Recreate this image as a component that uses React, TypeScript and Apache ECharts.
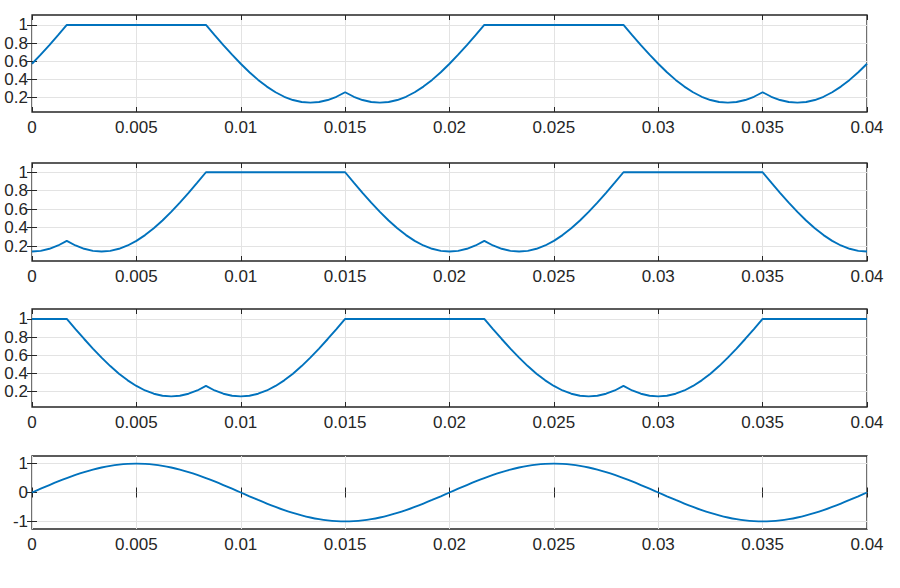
import React, { useEffect, useRef } from "react";
import * as echarts from "echarts";

// Time axis: 0 … 0.04 s, ticks every 0.005 s
const X_MIN = 0;
const X_MAX = 0.04;
const X_INTERVAL = 0.005;
const N_SAMPLES = 97; // one sample every 7.5 electrical degrees (50 Hz)
const TIME = Array.from({ length: N_SAMPLES }, (_, i) => +((i * X_MAX) / (N_SAMPLES - 1)).toFixed(7));

// Tick labels
const Y_TICKS_PWM = [0.2, 0.4, 0.6, 0.8, 1];
const Y_TICKS_SIN = [-1, 0, 1];

// Subplot 1 (phase A duty)
const PHASE_A = [
  0.572, 0.672, 0.778, 0.888,
  1, 1, 1, 1, 1, 1, 1, 1, 1, 1, 1, 1, 1, 1, 1, 1, 1,
  0.888, 0.778, 0.672, 0.572, 0.478, 0.394, 0.32, 0.258,
  0.208, 0.172, 0.15, 0.143, 0.15, 0.172, 0.208, 0.258,
  0.208, 0.172, 0.15, 0.143, 0.15, 0.172, 0.208, 0.258,
  0.32, 0.394, 0.478, 0.572,
  0.672, 0.778, 0.888,
  1, 1, 1, 1, 1, 1, 1, 1, 1, 1, 1, 1, 1, 1, 1, 1, 1,
  0.888, 0.778, 0.672, 0.572, 0.478, 0.394, 0.32, 0.258,
  0.208, 0.172, 0.15, 0.143, 0.15, 0.172, 0.208, 0.258,
  0.208, 0.172, 0.15, 0.143, 0.15, 0.172, 0.208, 0.258,
  0.32, 0.394, 0.478, 0.572,
];

// Subplot 2 (phase B duty)
const PHASE_B = [
  0.143, 0.15, 0.172, 0.208, 0.258, 0.208, 0.172, 0.15,
  0.143, 0.15, 0.172, 0.208, 0.258, 0.32, 0.394, 0.478,
  0.572, 0.672, 0.778, 0.888,
  1, 1, 1, 1, 1, 1, 1, 1, 1, 1, 1, 1, 1, 1, 1, 1, 1,
  0.888, 0.778, 0.672, 0.572, 0.478, 0.394, 0.32, 0.258,
  0.208, 0.172, 0.15, 0.143,
  0.15, 0.172, 0.208, 0.258, 0.208, 0.172, 0.15,
  0.143, 0.15, 0.172, 0.208, 0.258, 0.32, 0.394, 0.478,
  0.572, 0.672, 0.778, 0.888,
  1, 1, 1, 1, 1, 1, 1, 1, 1, 1, 1, 1, 1, 1, 1, 1, 1,
  0.888, 0.778, 0.672, 0.572, 0.478, 0.394, 0.32, 0.258,
  0.208, 0.172, 0.15, 0.143,
];

// Subplot 3 (phase C duty)
const PHASE_C = [
  1, 1, 1, 1, 1,
  0.888, 0.778, 0.672, 0.572, 0.478, 0.394, 0.32, 0.258,
  0.208, 0.172, 0.15, 0.143, 0.15, 0.172, 0.208, 0.258,
  0.208, 0.172, 0.15, 0.143, 0.15, 0.172, 0.208, 0.258,
  0.32, 0.394, 0.478, 0.572,
  0.672, 0.778, 0.888,
  1, 1, 1, 1, 1, 1, 1, 1, 1, 1, 1, 1, 1,
  1, 1, 1, 1,
  0.888, 0.778, 0.672, 0.572, 0.478, 0.394, 0.32, 0.258,
  0.208, 0.172, 0.15, 0.143, 0.15, 0.172, 0.208, 0.258,
  0.208, 0.172, 0.15, 0.143, 0.15, 0.172, 0.208, 0.258,
  0.32, 0.394, 0.478, 0.572,
  0.672, 0.778, 0.888,
  1, 1, 1, 1, 1, 1, 1, 1, 1, 1, 1, 1, 1,
];

// Subplot 4 (reference sine)
const REFERENCE = [
  0, 0.131, 0.259, 0.383, 0.5, 0.609, 0.707, 0.793, 0.866, 0.924, 0.966, 0.991, 1,
  0.991, 0.966, 0.924, 0.866, 0.793, 0.707, 0.609, 0.5, 0.383, 0.259, 0.131, 0,
  -0.131, -0.259, -0.383, -0.5, -0.609, -0.707, -0.793, -0.866, -0.924, -0.966, -0.991, -1,
  -0.991, -0.966, -0.924, -0.866, -0.793, -0.707, -0.609, -0.5, -0.383, -0.259, -0.131, 0,
  0.131, 0.259, 0.383, 0.5, 0.609, 0.707, 0.793, 0.866, 0.924, 0.966, 0.991, 1,
  0.991, 0.966, 0.924, 0.866, 0.793, 0.707, 0.609, 0.5, 0.383, 0.259, 0.131, 0,
  -0.131, -0.259, -0.383, -0.5, -0.609, -0.707, -0.793, -0.866, -0.924, -0.966, -0.991, -1,
  -0.991, -0.966, -0.924, -0.866, -0.793, -0.707, -0.609, -0.5, -0.383, -0.259, -0.131, 0,
];

const SERIES_VALUES = [PHASE_A, PHASE_B, PHASE_C, REFERENCE];
const Y_RANGES: [number, number][] = [
  [0.04, 1.11],
  [0.04, 1.1],
  [0.025, 1.11],
  [-1.265, 1.265],
];
const Y_TICK_SETS = [Y_TICKS_PWM, Y_TICKS_PWM, Y_TICKS_PWM, Y_TICKS_SIN];

const GRID_LAYOUT = [
  { top: 15, height: 97 },
  { top: 163, height: 98 },
  { top: 309, height: 98 },
  { top: 456, height: 73 },
];

const INK = "#262626";
const GRID_LINE = "#e3e3e3";
const LINE_COLOR = "#0072BD";
const FONT = "'Liberation Sans', Arial, Helvetica, sans-serif";
const FONT_SIZE = 17;

export default function App() {
  const ref = useRef<HTMLDivElement>(null);

  useEffect(() => {
    if (!ref.current) return;
    const chart = echarts.init(ref.current, null, { renderer: "svg" });

    const grid: any[] = [];
    const xAxis: any[] = [];
    const yAxis: any[] = [];
    const series: any[] = [];

    GRID_LAYOUT.forEach((g, i) => {
      grid.push({
        left: 32,
        right: 33,
        top: g.top,
        height: g.height,
        containLabel: false,
        outerBoundsMode: "none",
        show: true,
        borderColor: INK,
        borderWidth: 1.3,
        backgroundColor: "transparent",
      });
      const tick = { show: true, inside: true, length: 5, lineStyle: { color: INK, width: 1 } };
      xAxis.push({
        type: "value",
        gridIndex: i,
        position: "bottom",
        min: X_MIN,
        max: X_MAX,
        interval: X_INTERVAL,
        axisLine: { show: false },
        axisTick: tick,
        axisLabel: {
          show: true,
          color: INK,
          fontFamily: FONT,
          fontSize: FONT_SIZE,
          margin: 7,
          showMinLabel: true,
          showMaxLabel: true,
          hideOverlap: false,
        },
        splitLine: { show: true, lineStyle: { color: GRID_LINE, width: 1 } },
      });
      xAxis.push({
        type: "value",
        gridIndex: i,
        position: "top",
        min: X_MIN,
        max: X_MAX,
        interval: X_INTERVAL,
        axisLine: { show: false },
        axisTick: tick,
        axisLabel: { show: false },
        splitLine: { show: false },
      });
      const ticks = Y_TICK_SETS[i];
      yAxis.push({
        type: "value",
        gridIndex: i,
        position: "left",
        min: Y_RANGES[i][0],
        max: Y_RANGES[i][1],
        axisLine: { show: false },
        axisTick: { ...tick, customValues: ticks },
        axisLabel: {
          show: true,
          customValues: ticks,
          color: INK,
          fontFamily: FONT,
          fontSize: FONT_SIZE,
          margin: 4,
          hideOverlap: false,
        },
        splitLine: { show: true, lineStyle: { color: GRID_LINE, width: 1 } },
      });
      yAxis.push({
        type: "value",
        gridIndex: i,
        position: "right",
        min: Y_RANGES[i][0],
        max: Y_RANGES[i][1],
        axisLine: { show: false },
        axisTick: { ...tick, customValues: ticks },
        axisLabel: { show: false, customValues: ticks },
        splitLine: { show: false },
      });
      const vals = SERIES_VALUES[i];
      series.push({
        type: "line",
        xAxisIndex: 2 * i,
        yAxisIndex: 2 * i,
        data: TIME.map((t, k) => [t, vals[k]]),
        showSymbol: false,
        symbol: "none",
        smooth: i === 3 ? 0.3 : false,
        lineStyle: { color: LINE_COLOR, width: 1.9 },
        z: 5,
      });
    });

    chart.setOption({
      animation: false,
      backgroundColor: "#ffffff",
      grid,
      xAxis,
      yAxis,
      series,
    });

    return () => chart.dispose();
  }, []);

  return (
    <div
      ref={ref}
      style={{ position: "fixed", left: 0, top: 0, width: 900, height: 588, background: "#fff" }}
    />
  );
}
